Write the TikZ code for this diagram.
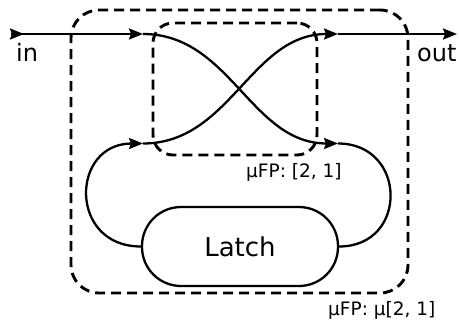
\documentclass[tikz,border=0pt]{standalone}
\usepackage{fontspec}
\setmainfont{DejaVu Sans}
\usetikzlibrary{arrows.meta,decorations.markings}
\begin{document}
\begin{tikzpicture}[x=1pt,y=-1pt,
  wtip/.tip={Stealth[length=14pt,width=11pt,inset=2pt]},
  wire/.style={line width=2.3pt},
  dbox/.style={draw, dashed, line width=2.9pt, dash pattern=on 10pt off 6pt, inner sep=0pt},
  lbl/.style={font=\fontsize{18.5}{22}\selectfont, inner sep=0pt, anchor=base west},
  io/.style={font=\fontsize{24}{28}\selectfont, inner sep=0pt, anchor=base west},
  latchbox/.style={draw, line width=2.3pt, rounded corners=39pt, minimum width=196pt, minimum height=79pt, inner sep=0pt, font=\fontsize{26}{31}\selectfont}]
\useasboundingbox (0,0) rectangle (459,322);
% dashed boxes
\node[dbox, rounded corners=28pt, minimum width=337pt, minimum height=283pt] (outer) at (239.5,151.5) {};
\node[dbox, rounded corners=20pt, minimum width=164pt, minimum height=132pt] (inner) at (235,89) {};
\node[lbl] (innerlbl) at (246,177) {μFP: [2, 1]};
\node[lbl] (outerlbl) at (328,315.5) {μFP: μ[2, 1]};
% latch
\node[latchbox] (latch) at (240,246.5) {Latch};
% coordinates
\coordinate (in) at (11,34);
\coordinate (P1) at (143,34);
\coordinate (P2) at (338,34);
\coordinate (P3) at (143,143.5);
\coordinate (P4) at (338,143.5);
\coordinate (out) at (457,34);
\node[io] (inlbl) at (16,61) {in};
\node[io] (outlbl) at (417,61) {out};
% wires
\draw[wire, -wtip, postaction={decorate},
  decoration={markings, mark=at position 13pt with {\arrow{wtip}}}] (in) -- (P1);
\draw[wire, -wtip] (P1) to[out=0,in=180] (P4);
\draw[wire] (P4) to[out=0,in=0,looseness=1.72] (latch.east);
\draw[wire, -wtip] (latch.west) to[out=180,in=180,looseness=1.8] (P3);
\draw[wire, -wtip] (P3) to[out=0,in=180] (P2);
\draw[wire, -wtip] (P2) -- (out);
\end{tikzpicture}
\end{document}
